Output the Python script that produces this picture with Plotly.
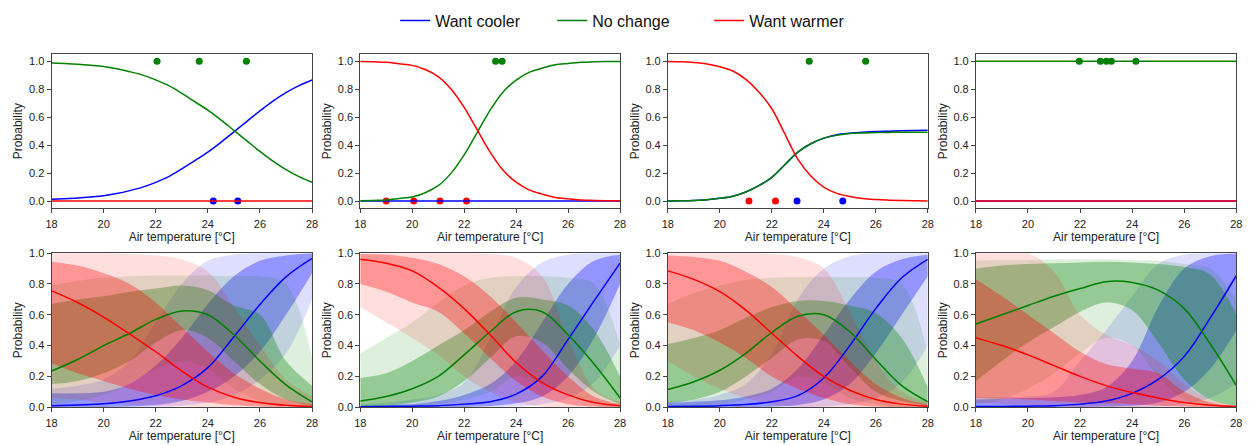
import plotly.graph_objects as go
from plotly.subplots import make_subplots

# ---------------- data ----------------
TEMP = [18, 19, 20, 21, 22, 23, 24, 25, 26, 27, 28]
TEMP_FINE = [18, 18.5, 19, 19.5, 20, 20.5, 21, 21.5, 22, 22.5, 23, 23.5,
             24, 24.5, 25, 25.5, 26, 26.5, 27, 27.5, 28]
X_TICKS = [18, 20, 22, 24, 26, 28]
Y_TICKS = [0.0, 0.2, 0.4, 0.6, 0.8, 1.0]
LABELS = ["Want cooler", "No change", "Want warmer"]

# top row: fitted probabilities per panel (on TEMP_FINE)
T1_NONE = [0.987, 0.983, 0.978, 0.971, 0.962, 0.946, 0.925, 0.9, 0.866, 0.825, 0.77,
           0.71, 0.65, 0.58, 0.505, 0.43, 0.355, 0.285, 0.225, 0.175, 0.135]
T1_COOL = [0.013, 0.017, 0.022, 0.029, 0.038, 0.054, 0.075, 0.1, 0.134, 0.175, 0.23,
           0.29, 0.35, 0.42, 0.495, 0.57, 0.645, 0.715, 0.775, 0.825, 0.865]
T1_WARM = [0.0] * 21

T2_WARM = [0.998, 0.995, 0.992, 0.981, 0.97, 0.94, 0.89, 0.8, 0.67, 0.51, 0.35,
           0.22, 0.135, 0.08, 0.05, 0.026, 0.016, 0.008, 0.005, 0.003, 0.002]
T2_NONE = [0.002, 0.005, 0.008, 0.019, 0.03, 0.06, 0.11, 0.2, 0.33, 0.49, 0.65,
           0.78, 0.865, 0.92, 0.95, 0.974, 0.984, 0.992, 0.995, 0.997, 0.998]
T2_COOL = [0.0] * 21

T3_WARM = [0.997, 0.995, 0.99, 0.98, 0.96, 0.93, 0.87, 0.78, 0.66, 0.48, 0.3,
           0.18, 0.1, 0.055, 0.033, 0.018, 0.011, 0.007, 0.004, 0.002, 0.001]
T3_NONE = [0.0015, 0.0025, 0.005, 0.01, 0.02, 0.035, 0.065, 0.11, 0.17, 0.26, 0.35,
           0.41, 0.45, 0.47, 0.483, 0.487, 0.49, 0.491, 0.492, 0.492, 0.492]
T3_COOL = [0.0015, 0.0025, 0.005, 0.01, 0.02, 0.035, 0.065, 0.11, 0.17, 0.26, 0.35,
           0.41, 0.45, 0.475, 0.485, 0.492, 0.497, 0.5, 0.503, 0.505, 0.507]

T4_NONE = [1.0] * 21
T4_COOL = [0.0] * 21
T4_WARM = [0.0] * 21

# top row: observed votes (temperature, outcome 0/1)
P1_COOL_X, P1_COOL_Y = [24.21, 25.15], [0, 0]
P1_NONE_X, P1_NONE_Y = [22.05, 23.67, 25.48], [1, 1, 1]
P1_WARM_X, P1_WARM_Y = [], []

P2_COOL_X, P2_COOL_Y = [], []
P2_NONE_X, P2_NONE_Y = [23.21, 23.46], [1, 1]
P2_WARM_X, P2_WARM_Y = [19.0, 20.06, 21.07, 22.09], [0, 0, 0, 0]

P3_COOL_X, P3_COOL_Y = [22.97, 24.73], [0, 0]
P3_NONE_X, P3_NONE_Y = [23.44, 25.61], [1, 1]
P3_WARM_X, P3_WARM_Y = [21.12, 22.14], [0, 0]

P4_COOL_X, P4_COOL_Y = [], []
P4_NONE_X, P4_NONE_Y = [21.97, 22.78, 23.01, 23.2, 24.14], [1, 1, 1, 1, 1]
P4_WARM_X, P4_WARM_Y = [], []

# bottom row: posterior mean with 50% (in) and 95% (out) bands (on TEMP)
B1_COOL = dict(mean=[0.01, 0.015, 0.022, 0.04, 0.074, 0.14, 0.257, 0.457, 0.667, 0.846, 0.966],
               in_lo=[0.0, 0.0, 0.002, 0.005, 0.015, 0.04, 0.1, 0.2, 0.36, 0.6, 0.87],
               in_hi=[0.09, 0.09, 0.1, 0.15, 0.27, 0.45, 0.67, 0.85, 0.95, 0.985, 1.0],
               out_lo=[0, 0, 0, 0, 0, 0.01, 0.03, 0.08, 0.18, 0.35, 0.7],
               out_hi=[0.12, 0.14, 0.18, 0.3, 0.55, 0.8, 0.95, 0.99, 1.0, 1.0, 1.0])
B1_NONE = dict(mean=[0.235, 0.31, 0.40, 0.48, 0.57, 0.625, 0.60, 0.47, 0.30, 0.145, 0.035],
               in_lo=[0.15, 0.17, 0.22, 0.3, 0.42, 0.5, 0.45, 0.3, 0.15, 0.05, 0.01],
               in_hi=[0.67, 0.7, 0.72, 0.75, 0.77, 0.79, 0.76, 0.66, 0.6, 0.3, 0.14],
               out_lo=[0.02, 0.04, 0.08, 0.15, 0.25, 0.3, 0.25, 0.12, 0.04, 0.01, 0.0],
               out_hi=[0.79, 0.82, 0.84, 0.85, 0.855, 0.855, 0.855, 0.85, 0.85, 0.8, 0.32])
B1_WARM = dict(mean=[0.755, 0.68, 0.585, 0.475, 0.36, 0.235, 0.13, 0.065, 0.03, 0.012, 0.004],
               in_lo=[0.285, 0.22, 0.17, 0.12, 0.08, 0.05, 0.03, 0.012, 0.005, 0.0, 0.0],
               in_hi=[0.945, 0.92, 0.87, 0.8, 0.68, 0.52, 0.36, 0.22, 0.12, 0.05, 0.02],
               out_lo=[0.06, 0.05, 0.03, 0.02, 0.01, 0.005, 0, 0, 0, 0, 0],
               out_hi=[1.0, 1.0, 1.0, 0.995, 0.985, 0.96, 0.88, 0.65, 0.4, 0.18, 0.07])

B2_COOL = dict(mean=[0.003, 0.005, 0.007, 0.01, 0.02, 0.035, 0.085, 0.2, 0.44, 0.69, 0.935],
               in_lo=[0, 0, 0, 0, 0.002, 0.008, 0.025, 0.07, 0.2, 0.45, 0.8],
               in_hi=[0.01, 0.015, 0.02, 0.04, 0.08, 0.15, 0.3, 0.55, 0.8, 0.95, 0.99],
               out_lo=[0, 0, 0, 0, 0, 0, 0.005, 0.02, 0.06, 0.16, 0.4],
               out_hi=[0.02, 0.03, 0.05, 0.08, 0.16, 0.45, 0.78, 0.94, 0.99, 1.0, 1.0])
B2_NONE = dict(mean=[0.04, 0.07, 0.12, 0.2, 0.34, 0.49, 0.62, 0.62, 0.47, 0.28, 0.06],
               in_lo=[0.005, 0.01, 0.03, 0.07, 0.17, 0.32, 0.46, 0.42, 0.25, 0.1, 0.02],
               in_hi=[0.19, 0.22, 0.3, 0.4, 0.5, 0.62, 0.71, 0.7, 0.66, 0.5, 0.2],
               out_lo=[0, 0, 0.005, 0.02, 0.05, 0.1, 0.2, 0.15, 0.08, 0.02, 0.0],
               out_hi=[0.35, 0.45, 0.55, 0.68, 0.79, 0.84, 0.85, 0.85, 0.84, 0.8, 0.4])
B2_WARM = dict(mean=[0.96, 0.935, 0.885, 0.78, 0.64, 0.47, 0.29, 0.16, 0.08, 0.03, 0.01],
               in_lo=[0.8, 0.75, 0.68, 0.62, 0.48, 0.32, 0.17, 0.07, 0.02, 0.005, 0.0],
               in_hi=[0.995, 0.99, 0.97, 0.93, 0.85, 0.72, 0.55, 0.37, 0.2, 0.07, 0.02],
               out_lo=[0.65, 0.55, 0.45, 0.34, 0.2, 0.1, 0.03, 0.005, 0, 0, 0],
               out_hi=[1.0, 1.0, 1.0, 1.0, 1.0, 0.995, 0.97, 0.85, 0.45, 0.12, 0.03])

B3_COOL = dict(mean=[0.004, 0.006, 0.01, 0.018, 0.035, 0.075, 0.19, 0.4, 0.64, 0.84, 0.96],
               in_lo=[0, 0, 0, 0.002, 0.005, 0.015, 0.05, 0.15, 0.35, 0.6, 0.85],
               in_hi=[0.03, 0.035, 0.045, 0.07, 0.12, 0.25, 0.47, 0.7, 0.88, 0.96, 0.99],
               out_lo=[0, 0, 0, 0, 0, 0, 0.005, 0.02, 0.06, 0.16, 0.4],
               out_hi=[0.04, 0.05, 0.08, 0.15, 0.35, 0.7, 0.9, 0.98, 1.0, 1.0, 1.0])
B3_NONE = dict(mean=[0.115, 0.165, 0.24, 0.35, 0.485, 0.59, 0.6, 0.49, 0.31, 0.14, 0.035],
               in_lo=[0.03, 0.05, 0.1, 0.2, 0.32, 0.44, 0.43, 0.26, 0.1, 0.04, 0.01],
               in_hi=[0.41, 0.45, 0.5, 0.58, 0.65, 0.69, 0.69, 0.66, 0.61, 0.45, 0.13],
               out_lo=[0, 0.005, 0.02, 0.05, 0.1, 0.2, 0.16, 0.06, 0.02, 0, 0],
               out_hi=[0.67, 0.74, 0.79, 0.825, 0.84, 0.845, 0.845, 0.845, 0.84, 0.8, 0.35])
B3_WARM = dict(mean=[0.885, 0.83, 0.75, 0.63, 0.48, 0.33, 0.2, 0.11, 0.05, 0.02, 0.006],
               in_lo=[0.55, 0.5, 0.42, 0.32, 0.2, 0.12, 0.06, 0.02, 0.005, 0, 0],
               in_hi=[0.985, 0.975, 0.95, 0.88, 0.78, 0.63, 0.47, 0.3, 0.15, 0.06, 0.02],
               out_lo=[0.3, 0.2, 0.12, 0.06, 0.02, 0.005, 0, 0, 0, 0, 0],
               out_hi=[1.0, 1.0, 1.0, 1.0, 0.995, 0.975, 0.9, 0.62, 0.3, 0.1, 0.03])

B4_COOL = dict(mean=[0.004, 0.005, 0.007, 0.01, 0.02, 0.04, 0.09, 0.18, 0.33, 0.58, 0.855],
               in_lo=[0, 0, 0, 0, 0.002, 0.005, 0.01, 0.03, 0.1, 0.25, 0.5],
               in_hi=[0.05, 0.055, 0.06, 0.065, 0.08, 0.13, 0.3, 0.65, 0.9, 0.98, 1.0],
               out_lo=[0, 0, 0, 0, 0, 0, 0, 0.005, 0.02, 0.06, 0.15],
               out_hi=[0.065, 0.065, 0.07, 0.1, 0.3, 0.5, 0.72, 0.93, 0.99, 1.0, 1.0])
B4_NONE = dict(mean=[0.54, 0.6, 0.66, 0.72, 0.77, 0.815, 0.81, 0.76, 0.64, 0.41, 0.14],
               in_lo=[0.17, 0.3, 0.42, 0.52, 0.62, 0.68, 0.63, 0.42, 0.18, 0.05, 0.01],
               in_hi=[0.9, 0.92, 0.93, 0.935, 0.94, 0.945, 0.94, 0.93, 0.91, 0.86, 0.6],
               out_lo=[0.02, 0.05, 0.12, 0.22, 0.35, 0.45, 0.4, 0.2, 0.05, 0.01, 0.0],
               out_hi=[0.95, 0.955, 0.955, 0.96, 0.96, 0.96, 0.955, 0.95, 0.93, 0.9, 0.7])
B4_WARM = dict(mean=[0.45, 0.4, 0.34, 0.27, 0.2, 0.14, 0.095, 0.06, 0.03, 0.012, 0.004],
               in_lo=[0.06, 0.055, 0.05, 0.04, 0.03, 0.025, 0.02, 0.01, 0.005, 0, 0],
               in_hi=[0.83, 0.72, 0.6, 0.48, 0.36, 0.28, 0.25, 0.22, 0.1, 0.03, 0.01],
               out_lo=[0.03, 0.02, 0.015, 0.01, 0.005, 0, 0, 0, 0, 0, 0],
               out_hi=[1.0, 1.0, 1.0, 0.88, 0.6, 0.47, 0.4, 0.3, 0.15, 0.05, 0.01])

# ---------------- styling ----------------
COLORS = ["#0000FF", "#008000", "#FF0000"]
RGB = ["0,0,255", "0,128,0", "255,0,0"]
IN_ALPHA = 0.33
OUT_ALPHA = 0.13
FONT = "Liberation Sans, Arial, Helvetica, sans-serif"
W, H = 1249, 446

TOP = [
    ((T1_COOL, T1_NONE, T1_WARM), ((P1_COOL_X, P1_COOL_Y), (P1_NONE_X, P1_NONE_Y), (P1_WARM_X, P1_WARM_Y))),
    ((T2_COOL, T2_NONE, T2_WARM), ((P2_COOL_X, P2_COOL_Y), (P2_NONE_X, P2_NONE_Y), (P2_WARM_X, P2_WARM_Y))),
    ((T3_COOL, T3_NONE, T3_WARM), ((P3_COOL_X, P3_COOL_Y), (P3_NONE_X, P3_NONE_Y), (P3_WARM_X, P3_WARM_Y))),
    ((T4_COOL, T4_NONE, T4_WARM), ((P4_COOL_X, P4_COOL_Y), (P4_NONE_X, P4_NONE_Y), (P4_WARM_X, P4_WARM_Y))),
]
BOTTOM = [
    (B1_COOL, B1_NONE, B1_WARM),
    (B2_COOL, B2_NONE, B2_WARM),
    (B3_COOL, B3_NONE, B3_WARM),
    (B4_COOL, B4_NONE, B4_WARM),
]

fig = make_subplots(rows=2, cols=4)

# legend entries
for k in range(3):
    fig.add_trace(go.Scatter(x=[None], y=[None], mode="lines", name=LABELS[k],
                             line=dict(color=COLORS[k], width=1.5), showlegend=True),
                  row=1, col=1)

# top row
for c, (curves, pts) in enumerate(TOP, start=1):
    for k in range(3):
        px, py = pts[k]
        if px:
            fig.add_trace(go.Scatter(x=px, y=py, mode="markers", showlegend=False,
                                     marker=dict(color=COLORS[k], size=7, line=dict(width=0))),
                          row=1, col=c)
    for k in range(3):
        fig.add_trace(go.Scatter(x=TEMP_FINE, y=curves[k], mode="lines", showlegend=False,
                                 line=dict(color=COLORS[k], width=1.5, shape="spline")),
                      row=1, col=c)


def add_band(lo, hi, rgba, c):
    fig.add_trace(go.Scatter(x=TEMP, y=lo, mode="lines", showlegend=False, hoverinfo="skip",
                             line=dict(width=0, shape="spline")), row=2, col=c)
    fig.add_trace(go.Scatter(x=TEMP, y=hi, mode="lines", showlegend=False, hoverinfo="skip",
                             line=dict(width=0, shape="spline"), fill="tonexty", fillcolor=rgba),
                  row=2, col=c)


# bottom row
for c, series in enumerate(BOTTOM, start=1):
    for k in range(3):
        s = series[k]
        add_band(s["out_lo"], s["out_hi"], f"rgba({RGB[k]},{OUT_ALPHA})", c)
        add_band(s["in_lo"], s["in_hi"], f"rgba({RGB[k]},{IN_ALPHA})", c)
    for k in range(3):
        fig.add_trace(go.Scatter(x=TEMP, y=series[k]["mean"], mode="lines", showlegend=False,
                                 line=dict(color=COLORS[k], width=1.5, shape="spline")),
                      row=2, col=c)

# layout / axes
X_DOM = [(46, 309), (357.7, 620), (668.3, 930.7), (979.3, 1242.3)]
Y_DOM_TOP = (49.5, 207.7)
Y_DOM_BOT = (254, 412.3)

axis_common = dict(showline=True, mirror=True, linecolor="#444", linewidth=1,
                   ticks="outside", ticklen=4, tickcolor="#444", showgrid=False,
                   zeroline=False, tickfont=dict(size=11, color="#222", family=FONT))

for r in (1, 2):
    for c in range(1, 5):
        n = (r - 1) * 4 + c
        xs = "xaxis" if n == 1 else f"xaxis{n}"
        ys = "yaxis" if n == 1 else f"yaxis{n}"
        x0, x1 = X_DOM[c - 1]
        ytop, ybot = Y_DOM_TOP if r == 1 else Y_DOM_BOT
        fig.layout[xs].update(domain=[x0 / W, x1 / W], range=[18, 28], tickvals=X_TICKS,
                              ticklabelstandoff=2,
                              title=dict(text="Air temperature [°C]", standoff=1,
                                         font=dict(size=12, color="#222", family=FONT)),
                              **axis_common)
        fig.layout[ys].update(domain=[1 - ybot / H, 1 - ytop / H],
                              range=[-0.05, 1.05] if r == 1 else [0, 1],
                              tickvals=Y_TICKS, tickformat=".1f",
                              title=dict(text="Probability", standoff=3,
                                         font=dict(size=12, color="#222", family=FONT)),
                              **axis_common)

fig.update_layout(
    width=W, height=H,
    margin=dict(l=0, r=0, t=0, b=0),
    paper_bgcolor="white", plot_bgcolor="white",
    font=dict(family=FONT, color="#111"),
    legend=dict(orientation="h", x=0.505, xanchor="center", y=1 - 15 / H, yanchor="middle",
                traceorder="normal", entrywidth=112, entrywidthmode="pixels",
                font=dict(size=16, family=FONT, color="#111"), bgcolor="rgba(0,0,0,0)"),
)

fig.write_html("out.html")
